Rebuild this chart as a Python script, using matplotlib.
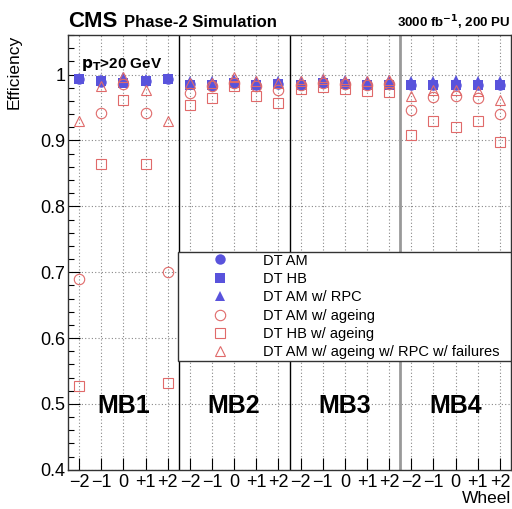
import matplotlib.pyplot as plt
import numpy as np

plt.rcParams['font.family'] = ['Liberation Sans', 'DejaVu Sans']

stations = ['MB1', 'MB2', 'MB3', 'MB4']
wheels = ['\u22122', '\u22121', '0', '+1', '+2']

# efficiency per station (MB1..MB4), wheels -2..+2
dt_am = [0.993, 0.989, 0.989, 0.991, 0.994,
         0.986, 0.983, 0.988, 0.985, 0.986,
         0.985, 0.987, 0.986, 0.985, 0.986,
         0.985, 0.985, 0.985, 0.985, 0.984]
dt_hb = [0.993, 0.990, 0.988, 0.990, 0.994,
         0.985, 0.984, 0.987, 0.985, 0.986,
         0.985, 0.987, 0.986, 0.985, 0.985,
         0.985, 0.985, 0.985, 0.985, 0.984]
dt_am_rpc = [0.995, 0.993, 0.996, 0.994, 0.995,
             0.990, 0.991, 0.994, 0.990, 0.990,
             0.990, 0.993, 0.992, 0.991, 0.992,
             0.991, 0.991, 0.992, 0.991, 0.990]
dt_am_age = [0.689, 0.942, 0.986, 0.942, 0.700,
             0.972, 0.982, 0.987, 0.983, 0.977,
             0.985, 0.988, 0.986, 0.985, 0.986,
             0.947, 0.966, 0.967, 0.965, 0.940]
dt_hb_age = [0.527, 0.864, 0.962, 0.864, 0.532,
             0.954, 0.964, 0.983, 0.967, 0.957,
             0.978, 0.981, 0.978, 0.975, 0.973,
             0.908, 0.929, 0.920, 0.930, 0.897]
dt_am_age_rpc = [0.930, 0.982, 0.996, 0.976, 0.929,
                 0.988, 0.987, 0.996, 0.991, 0.987,
                 0.991, 0.993, 0.991, 0.991, 0.992,
                 0.968, 0.976, 0.977, 0.975, 0.961]

blue = '#5953dc'
red = '#e06a6a'

nbins = len(stations) * len(wheels)
x = np.arange(nbins) + 0.5

fig = plt.figure(figsize=(5.12, 5.09), dpi=100)
ax = fig.add_axes([0.133, 0.077, 0.865, 0.854])

# grid
for xc in x:
    ax.axvline(xc, color='#888888', lw=0.8, ls=(0, (1, 2)), zorder=1)
for yc in np.arange(0.4, 1.01, 0.1):
    ax.axhline(yc, color='#888888', lw=0.8, ls=(0, (1, 2)), zorder=1)

ms = 7.5
ax.plot(x, dt_am, 'o', color=blue, ms=ms, mew=0, ls='none', label='DT AM', zorder=3)
ax.plot(x, dt_hb, 's', color=blue, ms=ms, mew=0, ls='none', label='DT HB', zorder=3)
ax.plot(x, dt_am_rpc, '^', color=blue, ms=ms, mew=0, ls='none',
        label='DT AM w/ RPC', zorder=3)
ax.plot(x, dt_am_age, 'o', color=red, mfc='none', mec=red, ms=ms, mew=0.8,
        ls='none', label='DT AM w/ ageing', zorder=4)
ax.plot(x, dt_hb_age, 's', color=red, mfc='none', mec=red, ms=ms, mew=0.8,
        ls='none', label='DT HB w/ ageing', zorder=4)
ax.plot(x, dt_am_age_rpc, '^', color=red, mfc='none', mec=red, ms=ms, mew=0.8,
        ls='none', label='DT AM w/ ageing w/ RPC w/ failures', zorder=4)

# station separators
for i in range(1, len(stations)):
    if i == 3:
        ax.axvline(i * 5, color='#999999', lw=2, zorder=2)
    else:
        ax.axvline(i * 5, color='black', lw=1, zorder=2)

for i, st in enumerate(stations):
    ax.text(i * 5 + 2.5, 0.487, st, ha='center', va='baseline',
            fontsize=18, fontweight='bold', zorder=5)

ax.set_xlim(0, nbins)
ax.set_ylim(0.4, 1.06)
ax.set_xticks(x)
ax.set_xticklabels(wheels * len(stations), fontsize=13)
ax.set_yticks(np.arange(0.4, 1.01, 0.1))
ax.set_yticklabels(['0.4', '0.5', '0.6', '0.7', '0.8', '0.9', '1'], fontsize=13)
ax.set_yticks(np.arange(0.4, 1.061, 0.02), minor=True)
ax.tick_params(axis='both', which='major', direction='in', length=8.5, width=0.8, pad=2)
ax.tick_params(axis='y', which='minor', direction='in', length=4.3, width=0.8)
ax.tick_params(axis='x', which='major', pad=3)
for sp in ax.spines.values():
    sp.set_linewidth(1)
    sp.set_color('#333333')

ax.set_ylabel('Efficiency', loc='top', fontsize=12.5)
ax.yaxis.set_label_coords(-0.104, 1.0)
ax.set_xlabel('Wheel', loc='right', fontsize=12.5, labelpad=0)

leg = ax.legend(loc='lower left', bbox_to_anchor=(0.249, 0.2506, 0.751, 0.2506),
                mode='expand', fancybox=False, framealpha=1, edgecolor='#333333',
                fontsize=10.5, borderaxespad=0, borderpad=0.1, handlelength=5.55,
                handletextpad=0.15, labelspacing=0.3, numpoints=1)
leg.get_frame().set_linewidth(1)
leg.set_zorder(6)

fig.text(0.133, 0.947, 'CMS', fontsize=16, fontweight='bold', va='baseline')
fig.text(0.243, 0.947, 'Phase-2 Simulation', fontsize=12, fontweight='bold', va='baseline')
fig.text(0.996, 0.947, '3000 fb$^{\\mathbf{-1}}$, 200 PU', fontsize=9.5,
         fontweight='bold', ha='right', va='baseline')
ax.text(0.03, 0.925, '$\\mathbf{p_{T}}$>20 GeV', transform=ax.transAxes,
        fontsize=11, fontweight='bold', va='baseline', zorder=5)

fig.savefig('out.png', dpi=100)
